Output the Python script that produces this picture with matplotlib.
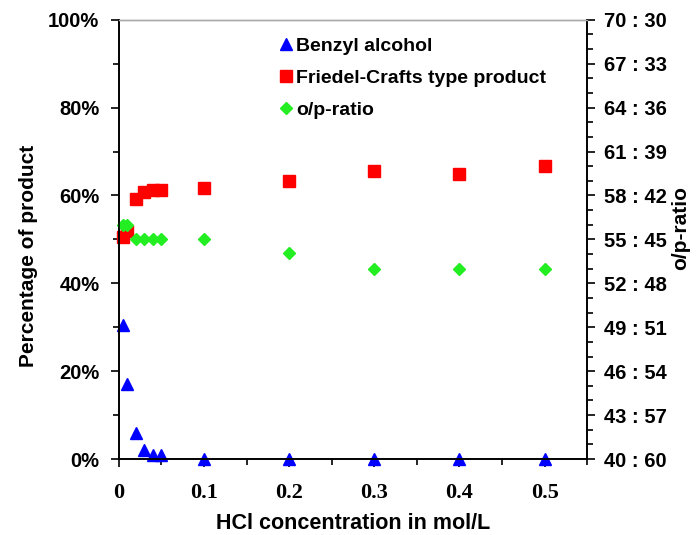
import numpy as np
import matplotlib.pyplot as plt
from matplotlib.ticker import MultipleLocator, FixedLocator, FuncFormatter

# HCl concentration (mol/L)
hcl = [0.005, 0.01, 0.02, 0.03, 0.04, 0.05, 0.1, 0.2, 0.3, 0.4, 0.5]
# percentage of product
benzyl = [30.5, 17, 6, 2, 1, 1, 0, 0, 0, 0, 0]
friedel = [50.5, 52, 59.3, 60.7, 61.2, 61.2, 61.8, 63.3, 65.6, 64.9, 66.7]
# ortho share of o/p ratio
ortho = [56, 56, 55, 55, 55, 55, 55, 54.1, 53, 53, 53]
ratio_ticks = [40, 43, 46, 49, 52, 55, 58, 61, 64, 67, 70]

sans = 'Liberation Sans'
serif = 'Liberation Serif'

fig = plt.figure(figsize=(6.99, 5.35), dpi=100)
ax = fig.add_axes([0.170, 0.142, 0.670, 0.821])
ax2 = ax.twinx()

h1, = ax.plot(hcl, benzyl, ls='none', marker='^', ms=9, color='#0000ff',
              label='Benzyl alcohol', clip_on=False)
h2, = ax.plot(hcl, friedel, ls='none', marker='s', ms=8, color='#ff0000',
              label='Friedel-Crafts type product', clip_on=False)
h3, = ax2.plot(hcl, ortho, ls='none', marker='D', ms=6, color='#22ee22',
               label='o/p-ratio', clip_on=False)

ax.set_xlim(0, 0.55)
ax.set_ylim(0, 100)
ax2.set_ylim(40, 70)

ax.xaxis.set_major_locator(MultipleLocator(0.1))
ax.xaxis.set_minor_locator(MultipleLocator(0.05))
ax.yaxis.set_major_locator(MultipleLocator(20))
ax.yaxis.set_minor_locator(MultipleLocator(10))
ax2.yaxis.set_major_locator(FixedLocator(ratio_ticks))
ax2.yaxis.set_minor_locator(MultipleLocator(1))

ax.xaxis.set_major_formatter(FuncFormatter(lambda v, p: '0' if v == 0 else '%.1f' % v))
ax.yaxis.set_major_formatter(FuncFormatter(lambda v, p: '%d%%' % round(v)))
ax2.yaxis.set_major_formatter(FuncFormatter(lambda v, p: '%d : %d' % (round(v), 100 - round(v))))

for a in (ax, ax2):
    a.tick_params(which='both', direction='out', width=1.2, color='black')
    a.tick_params(which='major', length=6)
    a.tick_params(which='minor', length=4)
    for s in ('left', 'right', 'bottom'):
        a.spines[s].set_linewidth(1.2)
        a.spines[s].set_color('black')
    a.spines['top'].set_color('#aaaaaa')
    a.spines['top'].set_linewidth(1.0)

for lab in ax.get_yticklabels() + ax2.get_yticklabels():
    lab.set_fontfamily(sans)
    lab.set_fontweight('bold')
    lab.set_fontsize(14.5)
for lab in ax.get_xticklabels():
    lab.set_fontfamily(serif)
    lab.set_fontweight('bold')
    lab.set_fontsize(16)
ax.tick_params(axis='x', pad=11)
ax.tick_params(axis='y', pad=8)
ax2.tick_params(axis='y', pad=6)

ax.set_xlabel('HCl concentration in mol/L', fontfamily=sans, fontweight='bold',
              fontsize=15.5)
ax.set_ylabel('Percentage of product', fontfamily=sans, fontweight='bold',
              fontsize=15)
ax2.set_ylabel('o/p-ratio', fontfamily=sans, fontweight='bold', fontsize=15)
ax.xaxis.set_label_coords(0.5, -0.123)
ax.yaxis.set_label_coords(-0.172, 0.463)
ax2.yaxis.set_label_coords(1.18, 0.526)

ax.legend(handles=[h1, h2, h3], loc='upper left', bbox_to_anchor=(0.30, 1.0),
          frameon=False, handletextpad=0.1, handlelength=0.9, labelspacing=0.75,
          prop={'family': sans, 'weight': 'bold', 'size': 14})

fig.savefig('out.png', dpi=100)
